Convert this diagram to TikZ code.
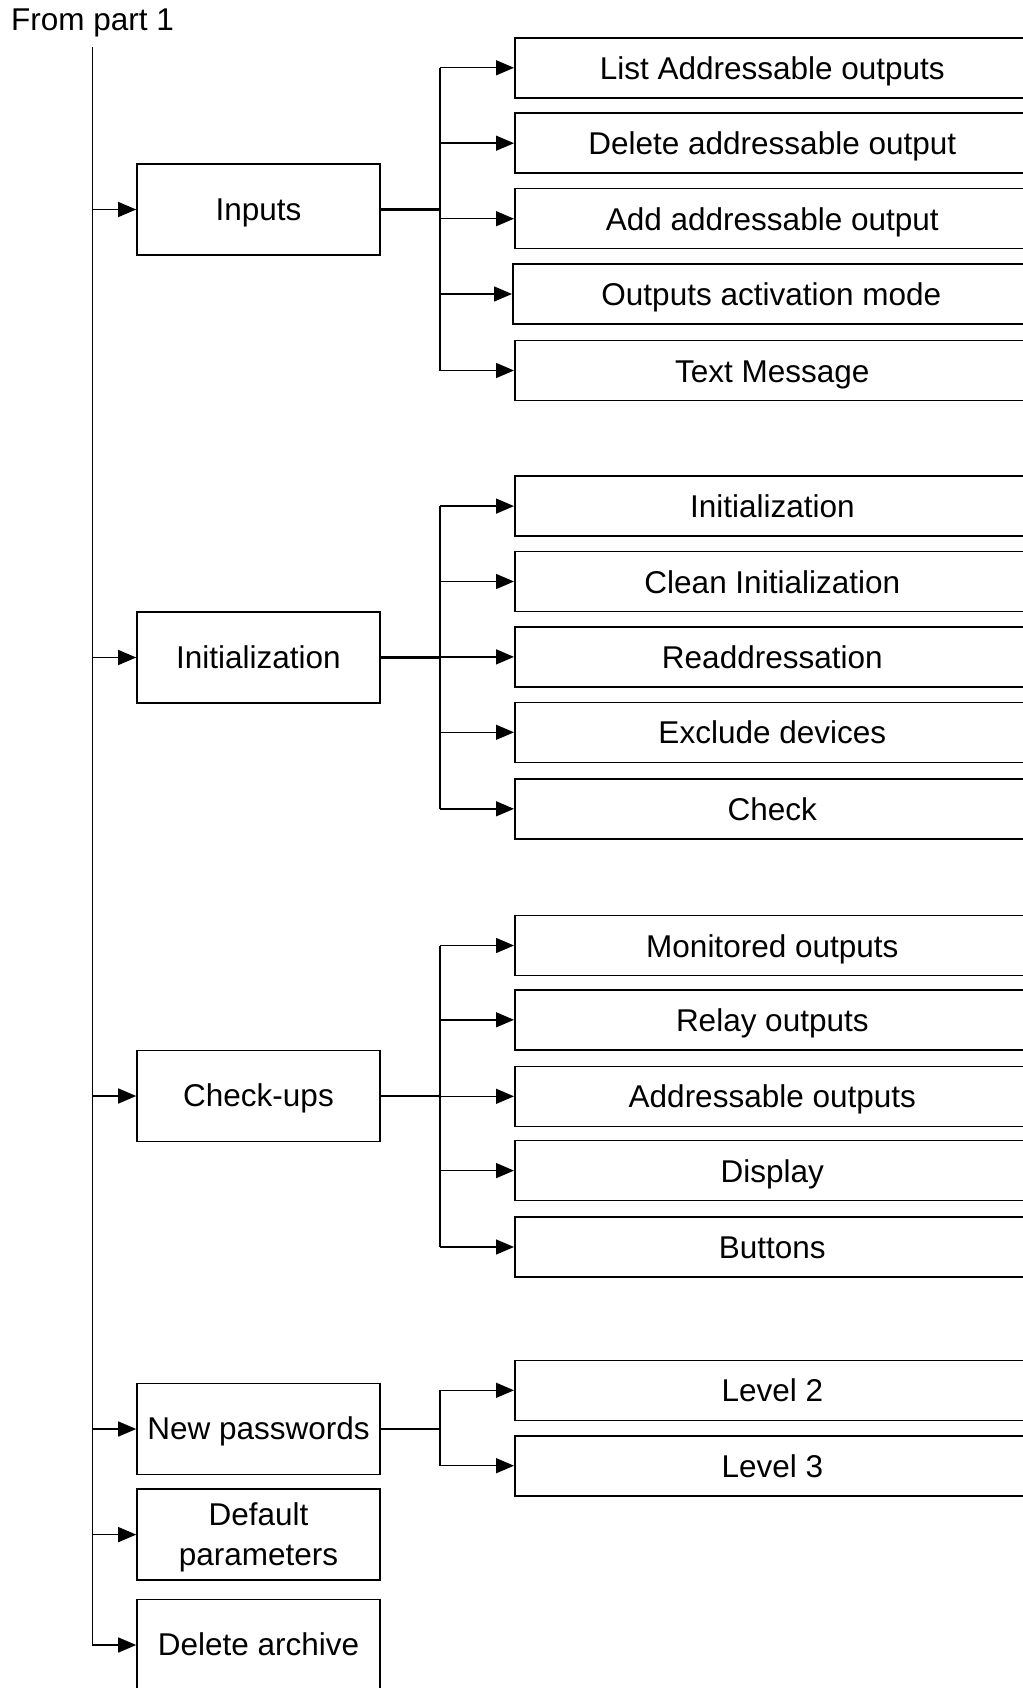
\documentclass[tikz,border=0pt]{standalone}
\usepackage{fontspec}
\setmainfont{Liberation Sans}
\usetikzlibrary{arrows.meta}
\begin{document}
\begin{tikzpicture}[x=1pt,y=-1pt,
  txt/.style={font=\fontsize{31.5}{40}\selectfont},
  lbox/.style={draw,line width=1.6pt,minimum width=243pt,minimum height=91pt,inner sep=0pt,align=center,txt},
  cbox/.style={draw,line width=1.6pt,minimum width=515pt,minimum height=60pt,inner sep=0pt,txt,text height=30pt,text depth=6.7pt},
  one/.style={text height=28.5pt,text depth=6.7pt},
  link/.style={line width=1.4pt},
  plink/.style={line width=2.6pt},
  arr/.style={line width=1.4pt,-{Triangle[length=18pt,width=15pt]}}]
\useasboundingbox (0,0) rectangle (1022,1688);

\node[txt,anchor=base west,inner sep=0pt] (from) at (11,31) {From part 1};
\coordinate (ml) at (92.5,47);
\coordinate (bx) at (440,47);

% level-1 boxes
\node[lbox,one] (inputs) at (258.5,209.5) {Inputs};
\node[lbox,one] (init) at (258.5,657.5) {Initialization};
\node[lbox,one] (checks) at (258.5,1096) {Check-ups};
\node[lbox,one] (newpw) at (258.5,1429) {New passwords};
\node[lbox] (defpar) at (258.5,1534.6) {\rule{0pt}{29pt}Default\\parameters};
\node[lbox,one] (delarch) at (258.5,1645) {Delete archive};

% inputs children
\node[cbox] (i1) at (772.3,67.8) {List Addressable outputs};
\node[cbox] (i2) at (772.3,143.2) {Delete addressable output};
\node[cbox] (i3) at (772.3,218.7) {Add addressable output};
\node[cbox,minimum width=517pt] (i4) at (771.3,294) {Outputs activation mode};
\node[cbox] (i5) at (772.3,370.5) {Text Message};

% initialization children
\node[cbox] (n1) at (772.3,506.1) {Initialization};
\node[cbox] (n2) at (772.3,581.5) {Clean Initialization};
\node[cbox] (n3) at (772.3,656.9) {Readdressation};
\node[cbox] (n4) at (772.3,732.3) {Exclude devices};
\node[cbox] (n5) at (772.3,808.8) {Check};

% check-ups children
\node[cbox] (c1) at (772.3,945.5) {Monitored outputs};
\node[cbox] (c2) at (772.3,1019.8) {Relay outputs};
\node[cbox] (c3) at (772.3,1096.3) {Addressable outputs};
\node[cbox] (c4) at (772.3,1170.6) {Display};
\node[cbox] (c5) at (772.3,1247) {Buttons};

% passwords children
\node[cbox] (p2) at (772.3,1390.3) {Level 2};
\node[cbox] (p3) at (772.3,1465.7) {Level 3};

% main trunk
\draw[arr] (ml) |- (delarch.west);
\foreach \b in {inputs,init,checks,newpw,defpar}
  \draw[arr] (ml |- \b.west) -- (\b.west);

% parent to branch
\draw[plink] (inputs.east) -- (bx |- inputs.east);
\draw[plink] (init.east) -- (bx |- init.east);
\draw[plink] (checks.east) -- (bx |- checks.east);
\draw[link] (newpw.east) -- (bx |- newpw.east);

% branches
\draw[link] (bx |- i1.west) -- (bx |- i5.west);
\draw[link] (bx |- n1.west) -- (bx |- n5.west);
\draw[link] (bx |- c1.west) -- (bx |- c5.west);
\draw[link] (bx |- p2.west) -- (bx |- p3.west);
\foreach \c in {i1,i2,i3,i4,i5,n1,n2,n3,n4,n5,c1,c2,c3,c4,c5,p2,p3}
  \draw[arr] (bx |- \c.west) -- (\c.west);
\end{tikzpicture}
\end{document}
